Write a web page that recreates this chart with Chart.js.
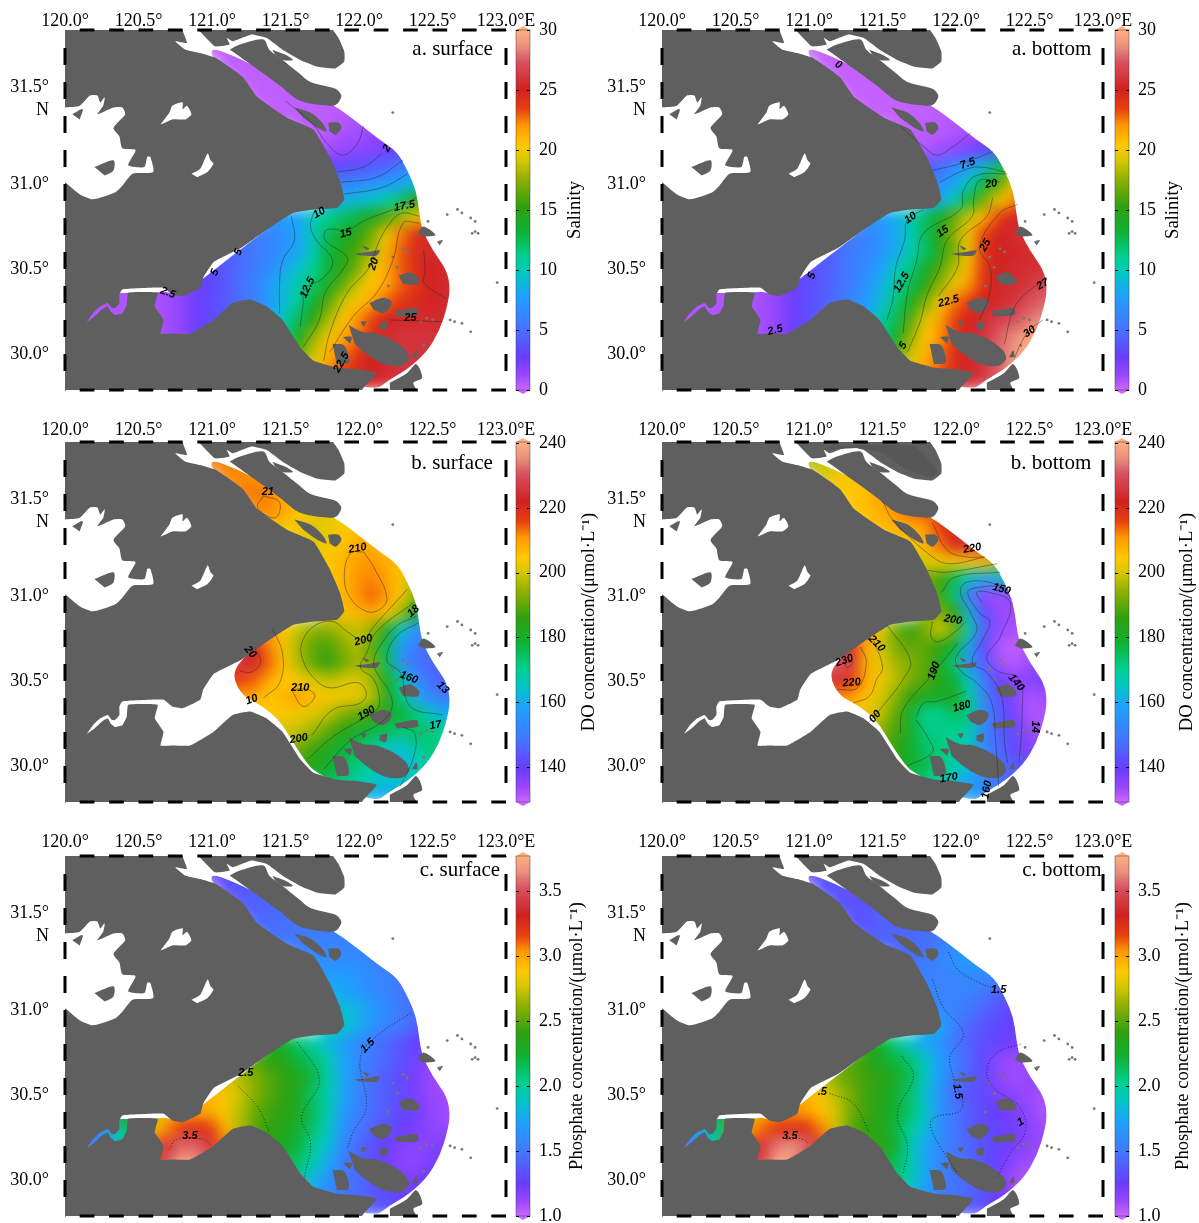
<!DOCTYPE html>
<html>
<head>
<meta charset="utf-8">
<style>
  html, body { margin: 0; padding: 0; background: #fff; }
  #page { position: relative; width: 1199px; height: 1223px; overflow: hidden; }
  canvas { position: absolute; }
</style>
<script src="https://cdn.jsdelivr.net/npm/chart.js@4"></script>
</head>
<body>
<div id="page"></div>
<script>
const _ = null;

// sampling grid of the fields, one latitude row per entry, 0.1 degree apart
const rowLats = [31.8,31.7,31.6,31.5,31.4,31.3,31.2,31.1,31.0,30.9,30.8,30.7,30.6,30.5,30.4,30.3,30.2,30.1,30.0,29.9,29.8];
const rowFirstLon = [121.0,121.1,121.2,121.3,121.4,121.6,121.7,121.7,121.8,121.8,121.4,121.2,121.0,120.9,120.1,120.1,120.1,120.6,121.5,121.7,121.9];

const salinitySurface = [
  [.3,.3,.3,.3],
  [.3,.3,.3,.3,.3],
  [.3,.3,.3,.3,.3,.3],
  [.3,.3,.3,.3,.3,.4,.5,.8],
  [.3,.3,.3,.3,.4,.5,.7,1,1.5],
  [.3,.3,.5,.8,1,1.3,2,2.5],
  [.5,1,1.3,1.5,1.8,2.2,3,4],
  [2,3,3.3,3.5,4,4.5,5.5,7],
  [5.5,6,6.5,7,7.5,8,9,10.5],
  [8,8.5,9,9.5,10.5,12,15,17],
  [7,7.5,8,10,11,12,13,14.5,16,18,20,22],
  [5,5.5,6,7,8,10,12.5,14,15,17,20,22.5,24.5,25.5],
  [4,4.5,5,5.5,6,7,8,10,13,14.5,16,18,21,23,24.5,25.5,26],
  [3,3.5,4,4.7,5.5,6.5,8,9.5,11,13,15,17,20,21.5,23,24.5,25,25.5,25.5],
  [.7,.7,.7,.7,.7,.8,1,1.7,2.5,3,4,5,6,7.5,9,10.5,12,14,16.5,19,20.5,21.5,23,24,25,25.5,25.5],
  [.7,.7,.7,.7,.7,.7,1,1.5,2.5,3.3,4,4.7,6,7.5,9,11,13.5,16,19,20.5,21.5,23,24,24.5,25.2,25.5,25.5],
  [.7,.7,.7,.7,.7,.7,1,1.5,2.5,3.3,4,5,6.5,8,10,12.5,15,18,20.5,22,23.5,25,25.5,25.5,25.5,25.5,25.5],
  [.7,1,1.5,2.5,3.3,4,5,6.5,8,11,14,17.5,20,21.5,22.5,24.5,25.5,26,26,26,26,26],
  [12,16,19,21,22.5,24,25,25.5,26,26,26,26],
  [20,22,23.5,24.5,25,25.5,26,26,26],
  [25,25.5,25.5,26,26]
];
const salinityBottom = [
  [.2,.2,.2,.2],
  [.2,.2,.2,.2,.2],
  [.2,.2,.2,.2,.2,.2],
  [.2,.2,.2,.2,.3,.3,.5,.8],
  [.2,.2,.2,.2,.3,.4,.5,.7,1],
  [.2,.3,.4,.5,.7,.9,1.3,2.5],
  [.5,.7,1,1.5,2,3,3.5,4.5],
  [3,3.5,5,6.5,7.5,9,12,15],
  [6,6.5,8,10,13,16,20,21],
  [7.5,8.5,10,13,17,20,22,25],
  [7,7.5,8.5,10,12,14,16.5,19,21,23.5,25,26],
  [5,5.5,6,7,8,10,12.5,15,17.5,20.5,23.5,25,25.5,26],
  [3.5,4,4.7,5.5,6.2,7,8.2,10,12,14.5,17,20,24,25,25.3,25.5,25.7],
  [3,3.5,4,4.8,5.7,6.5,7.8,9.7,11.5,13.5,16,18.5,21,24,25,25.5,25.7,26,26],
  [.7,.7,.7,.7,.7,.8,1,1.7,2.5,3.5,4,4.8,5.7,7,8.5,10.5,12.5,15,17.5,20,22,24.5,25.3,25.7,26,27,27],
  [.7,.7,.7,.7,.7,.7,1,1.5,2.5,3.5,4,5,6,7.5,9,11.5,14,17,20,22.5,24,25,25.5,26,27,27.7,28],
  [.7,.7,.7,.7,.7,.7,1,1.5,2.5,3.5,4,5,6.5,8,10.5,12.5,16,19.5,21.5,23.5,25,25.7,26.5,27,28,28.7,29],
  [.7,1,1.5,2.5,3.5,4,5,6.5,8,11,13.5,17.5,20.5,22,24,25.3,26,27.5,28.5,29.5,30,30],
  [11,15.5,19,21,22.5,24.5,25.3,26.2,27.8,29,30,30],
  [20,21.5,23,24.5,25.3,26,27.5,29,30],
  [24,25,26,27,28]
];
const oxygenSurface = [
  [213,212,211,210],
  [212,212,211,210,210],
  [212,213,212,208,208,207],
  [211,212,209,205,204,203,204,206],
  [206,205,203,200,202,204,206,207,206],
  [203,202,203,205,208,208,205,202],
  [204,205,207,210,211,208,205,198],
  [204,205,207,211,212,210,205,196],
  [205,207,211,214,210,204,193,188],
  [205,206,207,209,205,196,180,170],
  [210,205,199,194,194,197,199,195,183,165,155,150],
  [222,222,212,204,196,190,188,193,197,190,175,157,150,148],
  [225,225,227,223,214,205,197,190,186,191,196,192,175,155,148,146,145],
  [218,218,218,216,214,208,205,204,201,198,200,201,196,182,168,155,148,145,145],
  [_,_,_,_,_,_,_,_,210,210,210,210,208,205,207,210,206,204,203,202,198,183,172,160,152,150,150],
  [_,_,_,_,_,_,_,_,205,205,205,205,205,205,204,203,201,198,193,190,187,182,178,172,165,160,160],
  [_,_,_,_,_,_,_,_,200,200,200,200,200,200,200,198,195,190,185,180,177,175,172,175,172,170,170],
  [_,_,_,200,200,200,200,200,198,196,192,187,182,178,175,170,165,163,168,172,172,172],
  [190,187,183,180,176,172,168,163,162,165,170,172],
  [178,175,172,168,165,163,165,168,170],
  [165,162,160,158,160]
];
const oxygenBottom = [
  [196,198,201,204],
  [200,203,205,206,208],
  [204,205,206,210,212,214],
  [205,206,208,211,214,215,218,222],
  [205,206,208,208,210,217,223,226,224],
  [204,205,207,213,221,226,223,218],
  [200,200,203,205,206,206,198,190],
  [195,193,188,176,165,160,162,170],
  [193,187,172,150,135,133,135,140],
  [194,193,186,162,142,134,133,135],
  [212,202,192,186,192,200,192,168,146,135,132,133],
  [228,222,208,200,192,190,190,186,178,160,140,132,130,132],
  [232,232,232,226,208,202,196,193,190,183,172,155,145,133,131,133,136],
  [225,225,225,225,218,208,203,198,192,189,183,178,165,150,140,135,136,137,137],
  [_,_,_,_,_,_,_,_,212,212,212,212,210,206,200,194,186,182,180,183,170,152,143,137,132,133,133],
  [_,_,_,_,_,_,_,_,205,205,205,205,205,203,198,190,180,170,170,175,172,155,145,138,132,132,132],
  [_,_,_,_,_,_,_,_,200,200,200,200,200,198,194,188,180,172,171,170,168,152,145,142,135,132,132],
  [_,_,_,198,198,198,198,198,195,190,186,180,174,172,170,165,153,147,141,136,134,134],
  [188,182,179,176,172,168,163,155,148,145,142,140],
  [175,172,168,163,158,152,148,146,145],
  [165,160,157,155,153]
];
const phosphateSurface = [
  [1.3,1.3,1.35,1.35],
  [1.35,1.35,1.4,1.4,1.4],
  [1.4,1.4,1.4,1.45,1.45,1.45],
  [1.45,1.45,1.45,1.5,1.5,1.5,1.5,1.5],
  [1.5,1.5,1.5,1.55,1.55,1.55,1.55,1.5,1.5],
  [1.55,1.6,1.6,1.6,1.6,1.55,1.5,1.45],
  [1.7,1.7,1.7,1.65,1.6,1.55,1.5,1.45],
  [1.8,1.8,1.75,1.7,1.6,1.55,1.5,1.4],
  [1.85,1.85,1.8,1.7,1.6,1.5,1.45,1.35],
  [1.95,1.9,1.8,1.65,1.55,1.5,1.4,1.3],
  [2.3,2.25,2.1,1.95,1.85,1.7,1.6,1.5,1.42,1.35,1.25,1.2],
  [2.5,2.5,2.4,2.35,2.2,2.1,1.95,1.75,1.6,1.5,1.42,1.35,1.22,1.15],
  [2.8,2.75,2.7,2.6,2.5,2.4,2.35,2.2,1.95,1.75,1.6,1.45,1.38,1.3,1.2,1.12,1.1],
  [3,2.95,2.9,2.75,2.6,2.5,2.4,2.3,2.1,1.95,1.75,1.58,1.45,1.38,1.3,1.2,1.12,1.1,1.1],
  [2.4,2.4,2.4,2.4,2.4,2.7,2.9,3,3,2.95,2.85,2.7,2.55,2.45,2.4,2.3,2.15,1.95,1.7,1.55,1.45,1.38,1.3,1.22,1.15,1.1,1.1],
  [1.5,1.5,1.6,2,2.4,2.8,3.05,3.2,3.25,3.2,2.95,2.7,2.5,2.4,2.35,2.25,2.1,1.9,1.65,1.5,1.4,1.35,1.25,1.2,1.15,1.12,1.12],
  [1.4,1.5,1.8,2,2.4,3.1,3.4,3.55,3.55,3.4,3.1,2.8,2.5,2.4,2.3,2.2,2,1.85,1.6,1.45,1.35,1.25,1.18,1.15,1.18,1.2,1.2],
  [3.3,3.5,3.75,3.7,3.5,3.2,2.8,2.5,2.4,2.25,2.1,1.95,1.75,1.55,1.42,1.32,1.22,1.15,1.15,1.2,1.22,1.22],
  [2.2,2,1.8,1.65,1.5,1.45,1.35,1.25,1.2,1.2,1.25,1.25],
  [1.7,1.6,1.5,1.45,1.38,1.32,1.28,1.25,1.25],
  [1.5,1.45,1.4,1.35,1.3]
];
const phosphateBottom = [
  [1.35,1.35,1.35,1.35],
  [1.35,1.35,1.35,1.35,1.35],
  [1.35,1.35,1.35,1.4,1.4,1.4],
  [1.35,1.35,1.4,1.4,1.4,1.45,1.5,1.6],
  [1.4,1.4,1.42,1.45,1.45,1.5,1.6,1.7,1.75],
  [1.45,1.45,1.5,1.55,1.65,1.7,1.75,1.75],
  [1.5,1.55,1.55,1.55,1.6,1.6,1.55,1.5],
  [1.55,1.55,1.55,1.55,1.55,1.5,1.42,1.35],
  [1.6,1.6,1.55,1.5,1.42,1.35,1.28,1.25],
  [1.8,1.75,1.55,1.42,1.35,1.3,1.25,1.22],
  [2.4,2.25,2.05,1.85,1.75,1.65,1.5,1.4,1.32,1.28,1.22,1.2],
  [2.55,2.5,2.4,2.3,2.2,2.1,1.9,1.7,1.55,1.42,1.3,1.15,1.1,1.12],
  [2.75,2.7,2.6,2.5,2.45,2.38,2.3,2.15,1.9,1.7,1.5,1.4,1.3,1.15,1.1,1.12,1.15],
  [3,2.95,2.85,2.7,2.55,2.45,2.35,2.25,2.1,1.85,1.65,1.45,1.35,1.3,1.2,1.15,1.12,1.08,1.08],
  [2.2,2.2,2.3,2.4,2.5,2.8,2.95,3,3.05,3,2.9,2.75,2.55,2.45,2.35,2.25,2.1,1.9,1.65,1.5,1.38,1.3,1.25,1.2,1.15,1.07,1.07],
  [1.55,1.6,1.65,2.05,2.5,3,3.1,3.25,3.25,3.25,3.05,2.75,2.5,2.4,2.35,2.2,2,1.85,1.62,1.5,1.38,1.32,1.28,1.22,1.17,1.1,1.1],
  [1.4,1.5,1.9,2.1,2.6,3.2,3.4,3.6,3.65,3.55,3.3,2.8,2.5,2.45,2.4,2.25,1.95,1.75,1.6,1.5,1.42,1.35,1.28,1.22,1.15,1.12,1.12],
  [3.3,3.5,3.78,3.7,3.5,3.2,2.8,2.5,2.45,2.3,2.15,1.95,1.75,1.58,1.5,1.42,1.35,1.25,1.15,1.1,1.08,1.08],
  [2.25,2.1,1.95,1.75,1.55,1.48,1.42,1.35,1.2,1.1,1.05,1.05],
  [1.8,1.65,1.55,1.48,1.42,1.35,1.25,1.15,1.1],
  [1.45,1.4,1.35,1.3,1.25]
];

// contour lines as lon,lat pairs
const salinitySurfaceLines = [
  [122.03,31.34,121.99,31.24,121.89,31.17,121.78,31.24,121.69,31.35,121.50,31.49],
  [121.85,31.07,122.03,31.10,122.16,31.18],
  [121.88,31.01,122.12,31.04,122.30,31.14],
  [121.90,30.94,122.16,30.98,122.33,31.06],
  [121.69,30.83,121.67,30.75,121.71,30.67,121.82,30.55,121.76,30.45,121.63,30.38,121.62,30.29,121.60,30.16],
  [121.54,30.81,121.56,30.67,121.48,30.55,121.46,30.42,121.46,30.24],
  [122.39,30.92,122.26,30.86,122.05,30.79,121.92,30.73,121.78,30.73,121.77,30.67,121.92,30.57,121.90,30.51,121.77,30.36,121.73,30.20,121.62,30.04],
  [122.41,30.81,122.30,30.83,122.23,30.79,122.14,30.67,122.07,30.51,121.92,30.36,121.80,30.12,121.76,29.96],
  [122.41,30.77,122.30,30.77,122.23,30.55,122.12,30.36,121.96,30.22,121.80,30.01],
  [122.44,30.61,122.45,30.48,122.44,30.42,122.60,30.32],
  [122.21,30.20,122.57,30.19]
];
const salinityBottomLines = [
  [122.10,31.30,121.98,31.22,121.87,31.17,121.78,31.22,121.62,31.34],
  [121.84,31.08,122.03,31.12,122.25,31.19],
  [121.89,31.01,122.05,31.08,122.16,31.10,122.34,31.07],
  [121.78,30.85,121.67,30.79,121.65,30.67,121.59,30.51,121.57,30.32,121.53,30.20],
  [122.35,31.06,122.14,31.05,122.05,30.96,122.03,30.85,121.78,30.71,121.73,30.54,121.67,30.36,121.64,30.12],
  [122.30,31.01,122.16,31.02,122.12,30.91,122.11,30.81,121.94,30.67,121.89,30.51,121.80,30.34,121.76,30.20,121.67,30.01],
  [122.25,30.92,122.21,30.81,122.03,30.67,122.01,30.51,121.88,30.34],
  [122.42,30.88,122.30,30.83,122.16,30.63,122.23,30.51,122.23,30.36,122.16,30.20],
  [122.62,30.44,122.48,30.36,122.39,30.26,122.33,30.06],
  [122.59,30.20,122.50,30.14,122.44,30.06,122.40,29.98]
];
const oxygenSurfaceLines = [
  [122.03,31.26,122.10,31.17,122.19,30.99,122.14,30.92,122.05,30.91,121.94,30.99,121.90,31.11,121.94,31.25,122.03,31.26],
  [122.33,31.04,122.10,30.82,122.03,30.74,121.92,30.79,121.82,30.85,121.69,30.82,121.61,30.72,121.62,30.62,121.69,30.52,121.80,30.46,121.99,30.49,122.05,30.43,122.01,30.37,121.82,30.33,121.68,30.18],
  [121.65,30.04,121.82,30.17,122.01,30.27,122.12,30.33,122.14,30.39,122.10,30.51,122.01,30.58,122.05,30.66,122.12,30.79,122.37,30.96],
  [121.76,29.98,121.94,30.15,122.14,30.25,122.22,30.33,122.21,30.43,122.12,30.55,122.10,30.62,122.14,30.70,122.25,30.82,122.39,30.88],
  [122.40,30.84,122.25,30.76,122.19,30.62,122.28,30.55,122.35,30.35,122.57,30.30],
  [122.30,30.23,122.38,30.19,122.37,30.05,122.28,29.88],
  [121.19,30.56,121.26,30.55,121.33,30.61,121.29,30.70],
  [121.41,30.81,121.48,30.66,121.46,30.49,121.35,30.40],
  [121.54,30.45,121.62,30.35,121.70,30.41,121.65,30.45,121.54,30.45],
  [121.35,31.59,121.31,31.52,121.43,31.46,121.46,31.55,121.35,31.59]
];
const oxygenBottomLines = [
  [121.50,31.56,121.57,31.45,121.84,31.23,121.96,31.19,122.20,31.23],
  [121.81,31.15,121.94,31.14,122.28,31.19],
  [121.90,31.02,121.99,31.11,122.30,31.14],
  [122.18,30.96,122.14,31.02,122.23,31.02,122.37,30.96,122.30,30.76,122.21,30.64,122.28,30.56,122.43,30.51,122.45,30.32,122.43,30.02],
  [122.38,30.98,122.30,31.05,122.15,31.05,122.08,31.02,122.16,30.90,122.23,30.85,122.18,30.74,122.11,30.61,122.21,30.55,122.31,30.41,122.33,30.14,122.35,30.02],
  [122.37,31.03,122.23,31.08,122.07,31.08,122.03,31.02,122.10,30.90,122.14,30.79,122.00,30.64,122.03,30.56,122.14,30.49,122.24,30.38,122.27,30.14,122.29,29.88],
  [121.73,30.29,121.78,30.37,121.87,30.38,122.07,30.44],
  [121.73,30.27,121.82,30.15,121.84,30.08,121.67,30.00],
  [122.01,30.72,121.82,30.52,121.64,30.33,121.62,30.19],
  [121.53,30.83,121.69,30.62,121.64,30.51,121.50,30.35,121.40,30.25],
  [121.84,30.85,121.83,30.76,121.88,30.73,122.01,30.80,122.06,30.85],
  [121.44,30.74,121.50,30.58,121.46,30.51,121.41,30.41,121.30,30.37],
  [121.35,30.70,121.39,30.61,121.33,30.46,121.19,30.45],
  [121.24,30.61,121.30,30.61,121.26,30.58,121.24,30.61],
  [121.84,31.43,121.94,31.27,122.07,31.23,122.19,31.23]
];
const phosphateSurfaceLines = [
  [121.58,30.81,121.73,30.59,121.61,30.37,121.67,30.22,121.63,30.02],
  [121.18,30.55,121.31,30.43,121.39,30.28],
  [122.35,30.98,122.14,30.86,122.01,30.72,122.05,30.43,121.96,30.28,121.92,30.18],
  [120.71,30.18,120.76,30.24,120.94,30.24,120.99,30.21]
];
const phosphateBottomLines = [
  [121.95,31.34,122.01,31.24,122.16,31.16,122.25,31.13],
  [121.84,31.18,121.91,31.02,122.05,30.86,121.96,30.73,121.98,30.61,122.04,30.42,121.84,30.36,121.84,30.28,122.01,30.04],
  [121.63,30.73,121.71,30.61,121.60,30.39,121.67,30.20,121.64,30.04],
  [121.14,30.51,121.30,30.45,121.41,30.28],
  [122.44,30.80,122.28,30.75,122.21,30.65,122.25,30.55,122.44,30.42,122.47,30.28,122.37,30.16,122.28,30.02],
  [120.85,30.24,120.96,30.24,121.00,30.21]
];

// contour labels: text, lon, lat, rotation in degrees
const salinitySurfaceLabels = [['2',122.19,31.21,-60],['10',121.73,30.83,-30],['17.5',122.31,30.87,-10],['15',121.91,30.71,-15],['20',122.10,30.53,-70],['12.5',121.65,30.39,-65],['25',122.35,30.21,0],['5',121.18,30.60,-70],['5',121.02,30.48,-70],['2.5',120.70,30.36,20],['22.5',121.88,29.95,-60]];
const salinityBottomLabels = [['7.5',122.08,31.12,-20],['10',121.69,30.80,-35],['15',121.91,30.72,-35],['20',122.24,31.00,-10],['25',122.20,30.64,-60],['12.5',121.63,30.42,-60],['22.5',121.95,30.31,-15],['27',122.59,30.41,-30],['30',122.50,30.13,-35],['5',121.64,30.05,-60],['0',121.20,31.70,30],['5',121.02,30.46,-70],['2.5',120.77,30.14,-15]];
const oxygenSurfaceLabels = [['210',121.99,31.28,-10],['200',122.03,30.74,-15],['20',121.26,30.67,50],['160',122.34,30.52,20],['210',121.60,30.46,0],['10',121.27,30.39,-20],['200',121.59,30.16,-10],['190',122.05,30.31,-30],['17',122.52,30.24,-10],['13',122.57,30.46,45],['18',122.37,30.91,-40],['21',121.38,31.61,0]];
const oxygenBottomLabels = [['230',121.24,30.62,-20],['220',121.29,30.49,-5],['210',121.46,30.72,45],['200',121.98,30.86,10],['190',121.85,30.56,-70],['180',122.04,30.35,-15],['140',122.41,30.49,50],['150',122.31,31.04,15],['220',122.11,31.28,-10],['160',122.21,29.86,-80],['170',121.95,29.93,-10],['00',121.45,30.29,-50],['14',122.54,30.23,90]];
const phosphateSurfaceLabels = [['2.5',121.23,30.63,0],['1.5',122.06,30.79,-45],['3.5',120.85,30.26,0]];
const phosphateBottomLabels = [['1.5',122.29,31.12,0],['1.5',122.01,30.52,80],['1',122.44,30.34,-30],['3.5',120.87,30.26,0],['.5',121.09,30.52,0]];

// coast and islands, lon,lat pairs
const coastLine = [121.82,31.91,121.86,31.86,121.90,31.78,121.90,31.72,121.84,31.68,121.72,31.69,121.60,31.73,121.48,31.79,121.37,31.86,121.27,31.88,121.14,31.84,121.10,31.86,121.12,31.82,121.02,31.81,120.90,31.91,120.80,31.91,120.83,31.83,120.75,31.84,120.82,31.79,120.92,31.77,121.03,31.74,121.21,31.63,121.31,31.51,121.51,31.39,121.69,31.32,121.80,31.16,121.87,31.02,121.90,30.91,121.85,30.86,121.69,30.85,121.55,30.83,121.37,30.73,121.19,30.62,121.01,30.54,120.94,30.45,120.92,30.39,120.80,30.34,120.73,30.35,120.67,30.39,120.39,30.38,120.37,30.35,120.37,30.30,120.34,30.27,120.32,30.27,120.29,30.30,120.24,30.28,120.19,30.24,120.15,30.19,120.20,30.22,120.25,30.26,120.29,30.28,120.31,30.25,120.34,30.23,120.39,30.24,120.42,30.29,120.43,30.36,120.63,30.36,120.61,30.28,120.67,30.20,120.65,30.12,120.73,30.12,120.85,30.12,121.01,30.20,121.14,30.30,121.26,30.32,121.37,30.28,121.48,30.20,121.60,30.04,121.69,29.96,121.85,29.92,121.99,29.91,122.12,29.89,122.03,29.80,122.01,29.78,120,29.78,120,31.91];
const northLandShade = [121.09,31.86,121.16,31.88,121.71,31.88,121.87,31.74,121.84,31.70,121.67,31.74,121.50,31.84,121.33,31.87];
const islands = [
  [121.12,31.79,121.19,31.82,121.35,31.85,121.39,31.79,121.48,31.73,121.58,31.66,121.67,31.60,121.84,31.56,121.88,31.52,121.86,31.48,121.82,31.46,121.60,31.49,121.46,31.58,121.35,31.65,121.14,31.78],
  [121.41,31.79,121.50,31.76,121.55,31.73,121.48,31.73,121.43,31.76],
  [121.56,31.45,121.67,31.42,121.75,31.36,121.78,31.31,121.72,31.33,121.62,31.39],
  [121.79,31.36,121.86,31.36,121.88,31.33,121.84,31.29,121.80,31.31],
  [121.93,30.17,122.02,30.13,122.12,30.12,122.23,30.08,122.32,30.02,122.34,29.97,122.29,29.93,122.17,29.94,122.05,30.00,121.97,30.06],
  [122.07,30.30,122.16,30.33,122.22,30.31,122.21,30.27,122.16,30.24,122.10,30.26],
  [122.24,30.25,122.39,30.27,122.40,30.23,122.26,30.22],
  [121.82,30.06,121.90,30.05,121.93,29.95,121.85,29.94],
  [121.89,30.10,121.95,30.10,121.94,30.06],
  [122.01,30.19,122.05,30.19,122.03,30.16],
  [122.14,30.18,122.19,30.19,122.18,30.14,122.14,30.15],
  [122.27,30.46,122.35,30.48,122.41,30.44,122.40,30.41,122.30,30.41],
  [122.40,30.71,122.44,30.75,122.52,30.70,122.44,30.69],
  [122.53,30.66,122.57,30.67,122.55,30.64],
  [121.97,30.59,122.06,30.60,122.14,30.61,122.12,30.58,122.01,30.58],
  [122.02,30.64,122.07,30.62,122.05,30.61],
  [122.21,29.83,122.33,29.89,122.39,29.94,122.43,29.86,122.37,29.83,122.39,29.78,122.21,29.78],
  [122.36,29.98,122.39,30.02,122.40,29.98]
];
const lakes = [
  [120,31.45,120.10,31.46,120.17,31.52,120.22,31.52,120.24,31.48,120.27,31.51,120.26,31.46,120.22,31.41,120.33,31.45,120.39,31.45,120.41,31.41,120.33,31.33,120.37,31.28,120.39,31.21,120.48,31.20,120.43,31.11,120.54,31.10,120.56,31.16,120.58,31.16,120.60,31.07,120.46,31.06,120.39,30.99,120.34,30.95,120.19,30.91,120.10,30.94,120,31.01],
  [120.65,31.35,120.71,31.42,120.73,31.46,120.80,31.48,120.80,31.44,120.83,31.46,120.86,31.41,120.82,31.38,120.73,31.38,120.68,31.36],
  [120.86,31.06,120.92,31.09,120.97,31.18,120.99,31.14,121.01,31.12,120.97,31.07,120.90,31.04]
];
const lakeIslands = [
  [120.20,31.10,120.33,31.14,120.33,31.08,120.27,31.05],
  [120.05,31.41,120.12,31.44,120.10,31.38]
];
const islets = [122.60,30.82,122.67,30.85,122.70,30.83,122.76,30.80,122.79,30.78,122.77,30.71,122.81,30.71,122.79,30.72,122.62,30.20,122.65,30.19,122.70,30.18,122.76,30.13,122.94,30.42,122.23,31.42,122.55,30.66,122.26,30.51,122.33,30.60,122.23,30.57,122.47,30.78,122.30,30.62,122.20,30.40,122.42,30.19,122.46,30.21,122.50,30.20,122.44,30.05];

// edge of the sampled water
const eastEdge = [121.02,31.81,121.6,31.56,121.84,31.46,122.01,31.35,122.14,31.26,122.26,31.19,122.33,31.08,122.39,30.96,122.41,30.83,122.43,30.73,122.50,30.61,122.60,30.49,122.62,30.38,122.60,30.28,122.55,30.14,122.46,30.01,122.33,29.91,122.21,29.85,122.10,29.78];
const riverWest = [121.7,29.9,121.3,30.2,121.0,30.1,120.7,30.05,120.55,30.2,120.10,30.15,120.10,30.35,120.40,30.36,120.63,30.36,120.68,30.37,120.78,30.34,120.95,30.45,121.14,30.58,121.31,30.69,121.51,30.83,121.6,30.95,121.7,31.2,121.2,31.55,120.98,31.76];
const bayWest = [121.71,29.96,121.65,30.01,121.55,30.14,121.46,30.27,121.33,30.36,121.21,30.41,121.14,30.52,121.18,30.61,121.33,30.72,121.48,30.82,121.6,30.95,121.7,31.2,121.2,31.55,120.98,31.76];

const lonTicks = [120,120.5,121,121.5,122,122.5,123];
const lonTickLabels = ['120.0°','120.5°','121.0°','121.5°','122.0°','122.5°','123.0°E'];
const latTicks = [30,30.5,31,31.5];
const latTickLabels = ['30.0°','30.5°','31.0°',['31.5°','N']];
const salinityTicks = [0,5,10,15,20,25,30];
const oxygenTicks = [140,160,180,200,220,240];
const phosphateTicks = [1,1.5,2,2.5,3,3.5];

const colourStops = [0,.04,.09,.185,.26,.325,.37,.445,.51,.585,.64,.68,.735,.78,.835,.91,.955,1];
const colourList = ['#cc66ff','#9a48ff','#6a3cff','#3f7cff','#1ea0ff','#00c8c0','#00d090','#10b030','#2fa010','#90b000','#d8c800','#ffc800','#ff9800','#e84010','#d02020','#d85060','#e89080','#ffb080'];

const FONT_SERIF = '"Liberation Serif", serif';
const LAND = '#5f5f5f';

function hexToRgb(h){
    return [parseInt(h.slice(1,3),16), parseInt(h.slice(3,5),16), parseInt(h.slice(5,7),16)];
}

function colourAt(f){
    f = Math.max(0, Math.min(1, f));
    let i = 1;
    while(i < colourStops.length - 1 && colourStops[i] < f) i++;
    const t = (f - colourStops[i-1]) / (colourStops[i] - colourStops[i-1]);
    const a = hexToRgb(colourList[i-1]), b = hexToRgb(colourList[i]);
    return 'rgb(' + a.map((c,k) => Math.round(c + (b[k]-c)*t)).join(',') + ')';
}

function pairs(flat){
    const pts = [];
    for(let i = 0; i < flat.length; i += 2) pts.push({x: flat[i], y: flat[i+1]});
    return pts;
}

function fieldCells(rows){
    const cells = [];
    rows.forEach((row, r) => row.forEach((v, c) => {
        if(v !== null) cells.push({x: rowFirstLon[r] + c*0.1, y: rowLats[r], v: v});
    }));
    return cells;
}

function shape(flat, colour, order, bend){
    return {data: pairs(flat), showLine: true, fill: 'shape', tension: bend, backgroundColor: colour, borderColor: colour, borderWidth: 0, pointRadius: 0, order: order};
}

function frameDashes(){
    const pts = [];
    const seg = (a, b) => { pts.push(a, b, {x: null, y: null}); };
    for(let lon = 120.1; lon < 122.95; lon += 0.2){
        seg({x: lon, y: 31.906}, {x: lon+0.1, y: 31.906});
        seg({x: lon, y: 29.788}, {x: lon+0.1, y: 29.788});
    }
    for(let lat = 29.9; lat < 31.85; lat += 0.2){
        seg({x: 120, y: lat}, {x: 120, y: lat+0.1});
        seg({x: 123, y: lat}, {x: 123, y: lat+0.1});
    }
    return pts;
}

function noPadding(s){
    s.paddingTop = 0; s.paddingBottom = 0; s.paddingLeft = 0; s.paddingRight = 0;
}

function makeCanvas(left, top, w, h){
    const c = document.createElement('canvas');
    c.width = w; c.height = h;
    c.style.left = left + 'px'; c.style.top = top + 'px';
    c.style.width = w + 'px'; c.style.height = h + 'px';
    document.getElementById('page').appendChild(c);
    return c;
}

function drawMap(cfg){
    const canvas = makeCanvas(cfg.left, cfg.top, 545, 403);
    const outline = pairs(cfg.outline);

    const datasets = [{
        data: fieldCells(cfg.rows),
        pointStyle: 'rect',
        pointRadius: 13,
        pointBorderWidth: 0,
        pointBackgroundColor: c => colourAt((c.raw.v - cfg.min) / (cfg.max - cfg.min)),
        order: 20
    }, shape(coastLine, LAND, 10, 0.12)];
    if(cfg.shade) datasets.push(shape(cfg.shade, '#575757', 9, 0.2));
    lakes.forEach(l => datasets.push(shape(l, '#ffffff', 9, 0.2)));
    lakeIslands.forEach(l => datasets.push(shape(l, LAND, 8, 0.3)));
    islands.forEach(l => datasets.push(shape(l, LAND, 7, 0.3)));
    datasets.push({data: pairs(islets), pointRadius: 1.4, pointBorderWidth: 0, pointBackgroundColor: '#777777', order: 6});
    cfg.lines.forEach(l => datasets.push({
        data: pairs(l), showLine: true, fill: false, tension: 0.4, pointRadius: 0,
        borderColor: cfg.dotted ? '#222222' : 'rgba(40,40,40,0.65)',
        borderWidth: cfg.dotted ? 0.9 : 0.7,
        borderDash: cfg.dotted ? [1,2] : [],
        order: 5
    }));
    datasets.push({data: frameDashes(), showLine: true, fill: false, spanGaps: false, pointRadius: 0, borderColor: '#000000', borderWidth: 3, clip: false, order: 1});

    // smooth the sampled cells and cut them to the water edge
    const smoothField = {
        id: 'smoothField',
        afterDatasetDraw(chart, args){
            if(args.index !== 0) return;
            const ctx = chart.ctx, a = chart.chartArea;
            const w = a.right - a.left, h = a.bottom - a.top;
            const copy = document.createElement('canvas');
            copy.width = chart.canvas.width; copy.height = chart.canvas.height;
            copy.getContext('2d').drawImage(chart.canvas, a.left, a.top, w, h, a.left, a.top, w, h);
            const xs = chart.scales.x, ys = chart.scales.y;
            const px = outline.map(p => [xs.getPixelForValue(p.x), ys.getPixelForValue(p.y)]);
            ctx.save();
            ctx.clearRect(a.left, a.top, w, h);
            ctx.beginPath();
            ctx.rect(a.left, a.top, w, h);
            ctx.clip();
            ctx.beginPath();
            const n = px.length;
            ctx.moveTo((px[n-1][0]+px[0][0])/2, (px[n-1][1]+px[0][1])/2);
            px.forEach((p, i) => {
                const q = px[(i+1)%n];
                ctx.quadraticCurveTo(p[0], p[1], (p[0]+q[0])/2, (p[1]+q[1])/2);
            });
            ctx.closePath();
            ctx.clip();
            ctx.filter = 'blur(7px)';
            ctx.drawImage(copy, 0, 0);
            ctx.restore();
        }
    };

    const mapText = {
        id: 'mapText',
        afterDatasetsDraw(chart){
            const ctx = chart.ctx, xs = chart.scales.x, ys = chart.scales.y;
            ctx.save();
            ctx.fillStyle = '#000';
            ctx.font = 'italic bold 11px "Liberation Sans", sans-serif';
            ctx.textAlign = 'center';
            ctx.textBaseline = 'middle';
            cfg.labels.forEach(l => {
                ctx.save();
                ctx.translate(xs.getPixelForValue(l[1]), ys.getPixelForValue(l[2]));
                ctx.rotate(l[3]*Math.PI/180);
                ctx.fillText(l[0], 0, 0);
                ctx.restore();
            });
            ctx.font = '21px ' + FONT_SERIF;
            ctx.textAlign = 'right';
            ctx.fillText(cfg.title, xs.getPixelForValue(cfg.titleLon), ys.getPixelForValue(cfg.titleLat));
            ctx.restore();
        }
    };

    new Chart(canvas.getContext('2d'), {
        type: 'scatter',
        data: {datasets: datasets},
        plugins: [smoothField, mapText],
        options: {
            responsive: false,
            animation: false,
            events: [],
            layout: {padding: {right: 39, bottom: 8}},
            plugins: {legend: {display: false}, tooltip: {enabled: false}},
            scales: {
                x: {
                    type: 'linear', position: 'top', min: 120, max: 123,
                    grid: {display: false, drawTicks: false},
                    border: {display: true, color: '#888888', width: 1},
                    afterBuildTicks: s => { s.ticks = lonTicks.map(v => ({value: v})); },
                    afterFit: s => { s.height = 30; noPadding(s); },
                    ticks: {
                        color: '#000', padding: cfg.labelGap, maxRotation: 0, autoSkip: false,
                        font: {family: FONT_SERIF, size: 18},
                        callback: (v, i) => lonTickLabels[i]
                    }
                },
                y: {
                    type: 'linear', min: 29.788, max: 31.906,
                    grid: {display: false, drawTicks: false},
                    border: {display: true, color: '#888888', width: 1},
                    afterBuildTicks: s => { s.ticks = latTicks.map(v => ({value: v})); },
                    afterFit: s => { s.width = 65; noPadding(s); },
                    ticks: {
                        color: '#000', padding: 16, autoSkip: false,
                        font: {family: FONT_SERIF, size: 18, lineHeight: 1.25},
                        callback: (v, i) => latTickLabels[i]
                    }
                }
            }
        }
    });
}

function drawColourBar(cfg){
    const canvas = makeCanvas(cfg.left, cfg.top, 90, 400);

    const barDress = {
        id: 'barDress',
        afterDatasetsDraw(chart){
            const ctx = chart.ctx, a = chart.chartArea, ys = chart.scales.y;
            const mid = (a.left + a.right)/2;
            ctx.save();
            ctx.fillStyle = colourList[colourList.length-1];
            ctx.beginPath(); ctx.moveTo(a.left, a.top); ctx.lineTo(mid, a.top-4); ctx.lineTo(a.right, a.top); ctx.fill();
            ctx.fillStyle = colourList[0];
            ctx.beginPath(); ctx.moveTo(a.left, a.bottom); ctx.lineTo(mid, a.bottom+4); ctx.lineTo(a.right, a.bottom); ctx.fill();
            ctx.strokeStyle = 'rgba(60,60,60,0.6)';
            ctx.lineWidth = 0.8;
            ctx.strokeRect(a.left, a.top, a.right-a.left, a.bottom-a.top);
            ctx.strokeStyle = '#000';
            ctx.lineWidth = 1;
            cfg.ticks.forEach(v => {
                const y = Math.round(ys.getPixelForValue(v)) + 0.5;
                ctx.beginPath();
                ctx.moveTo(a.left, y); ctx.lineTo(a.left+3, y);
                ctx.moveTo(a.right-3, y); ctx.lineTo(a.right, y);
                ctx.stroke();
            });
            ctx.fillStyle = '#000';
            ctx.font = '18.6px ' + FONT_SERIF;
            ctx.textAlign = 'center';
            ctx.textBaseline = 'middle';
            ctx.translate(cfg.titleX, (a.top + a.bottom)/2);
            ctx.rotate(-Math.PI/2);
            ctx.fillText(cfg.title, 0, 0);
            ctx.restore();
        }
    };

    new Chart(canvas.getContext('2d'), {
        type: 'bar',
        data: {
            labels: [''],
            datasets: [{
                data: [[cfg.min, cfg.max]],
                barPercentage: 1,
                categoryPercentage: 1,
                backgroundColor: c => {
                    const a = c.chart.chartArea;
                    if(!a) return '#888';
                    const g = c.chart.ctx.createLinearGradient(0, a.bottom, 0, a.top);
                    colourStops.forEach((s, i) => g.addColorStop(s, colourList[i]));
                    return g;
                }
            }]
        },
        plugins: [barDress],
        options: {
            responsive: false,
            animation: false,
            events: [],
            layout: {padding: {left: 6, top: 30, bottom: 10}},
            plugins: {legend: {display: false}, tooltip: {enabled: false}},
            scales: {
                x: {display: false},
                y: {
                    position: 'right', min: cfg.min, max: cfg.max,
                    grid: {display: false, drawTicks: false},
                    border: {display: false},
                    afterBuildTicks: s => { s.ticks = cfg.ticks.map(v => ({value: v})); },
                    afterFit: s => { s.width = 70; noPadding(s); },
                    ticks: {
                        color: '#000', padding: 9, autoSkip: false,
                        font: {family: FONT_SERIF, size: 18},
                        callback: v => cfg.digits ? v.toFixed(cfg.digits) : String(v)
                    }
                }
            }
        }
    });
}

const ROW_TOPS = [0, 412, 826];
const COL_LEFT = [0, 597];
const BAR_LEFT = [510, 1109];
const LABEL_GAPS = [-2, 1, 3];

window.addEventListener('load', () => {
    const west = [...eastEdge, ...riverWest];
    const bay = [...eastEdge, ...bayWest];

    drawMap({left: COL_LEFT[0], top: ROW_TOPS[0], labelGap: LABEL_GAPS[0], rows: salinitySurface, min: 0, max: 30, lines: salinitySurfaceLines, labels: salinitySurfaceLabels, outline: west, title: 'a. surface', titleLon: 122.91, titleLat: 31.79});
    drawMap({left: COL_LEFT[1], top: ROW_TOPS[0], labelGap: LABEL_GAPS[0], rows: salinityBottom, min: 0, max: 30, lines: salinityBottomLines, labels: salinityBottomLabels, outline: west, title: 'a. bottom', titleLon: 122.92, titleLat: 31.79});
    drawMap({left: COL_LEFT[0], top: ROW_TOPS[1], labelGap: LABEL_GAPS[1], rows: oxygenSurface, min: 129.2, max: 240.3, lines: oxygenSurfaceLines, labels: oxygenSurfaceLabels, outline: bay, title: 'b. surface', titleLon: 122.91, titleLat: 31.78});
    drawMap({left: COL_LEFT[1], top: ROW_TOPS[1], labelGap: LABEL_GAPS[1], rows: oxygenBottom, min: 129.2, max: 240.3, lines: oxygenBottomLines, labels: oxygenBottomLabels, outline: bay, shade: northLandShade, title: 'b. bottom', titleLon: 122.92, titleLat: 31.78});
    drawMap({left: COL_LEFT[0], top: ROW_TOPS[2], labelGap: LABEL_GAPS[2], rows: phosphateSurface, min: 1, max: 3.77, lines: phosphateSurfaceLines, labels: phosphateSurfaceLabels, outline: west, dotted: true, title: 'c. surface', titleLon: 122.96, titleLat: 31.82});
    drawMap({left: COL_LEFT[1], top: ROW_TOPS[2], labelGap: LABEL_GAPS[2], rows: phosphateBottom, min: 1, max: 3.77, lines: phosphateBottomLines, labels: phosphateBottomLabels, outline: west, dotted: true, title: 'c. bottom', titleLon: 122.99, titleLat: 31.82});

    drawColourBar({left: BAR_LEFT[0], top: ROW_TOPS[0], min: 0, max: 30, ticks: salinityTicks, digits: 0, title: 'Salinity', titleX: 65});
    drawColourBar({left: BAR_LEFT[1], top: ROW_TOPS[0], min: 0, max: 30, ticks: salinityTicks, digits: 0, title: 'Salinity', titleX: 64});
    drawColourBar({left: BAR_LEFT[0], top: ROW_TOPS[1], min: 129.2, max: 240.3, ticks: oxygenTicks, digits: 0, title: 'DO concentration/(μmol·L⁻¹)', titleX: 79});
    drawColourBar({left: BAR_LEFT[1], top: ROW_TOPS[1], min: 129.2, max: 240.3, ticks: oxygenTicks, digits: 0, title: 'DO concentration/(μmol·L⁻¹)', titleX: 78});
    drawColourBar({left: BAR_LEFT[0], top: ROW_TOPS[2], min: 1, max: 3.77, ticks: phosphateTicks, digits: 1, title: 'Phosphate concentration/(μmol·L⁻¹)', titleX: 67});
    drawColourBar({left: BAR_LEFT[1], top: ROW_TOPS[2], min: 1, max: 3.77, ticks: phosphateTicks, digits: 1, title: 'Phosphate concentration/(μmol·L⁻¹)', titleX: 74});
});
</script>
</body>
</html>
